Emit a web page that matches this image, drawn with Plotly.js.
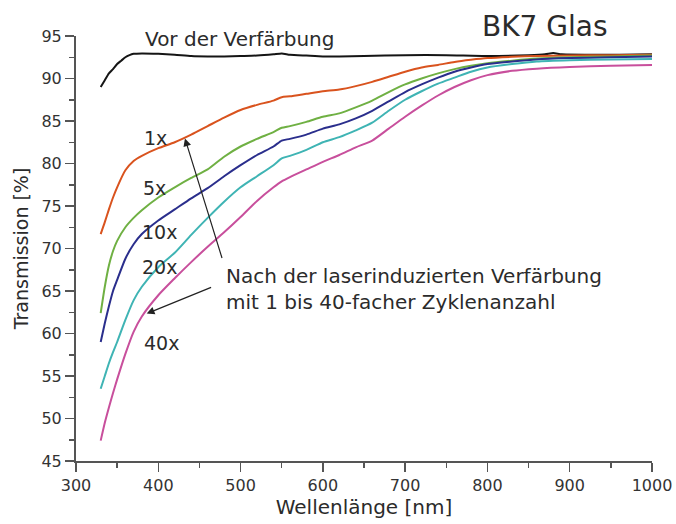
<!DOCTYPE html>
<html>
<head>
<meta charset="utf-8">
<script src="https://cdn.plot.ly/plotly-3.0.1.min.js"></script>
<style>html,body{margin:0;padding:0;background:#fff;}#chart{width:676px;height:524px;}</style>
</head>
<body>
<div id="chart"></div>
<script>
// Wavelength grid (nm) for the coloured series
const wavelength = [330,335,340,345,350,360,370,380,400,420,440,460,480,500,520,540,550,560,580,600,620,640,660,680,700,720,740,760,780,800,830,860,900,950,1000];
// Transmission (%) after 1x, 5x, 10x, 20x, 40x cycles
const t1x  = [71.7,73.1,74.6,76.0,77.2,79.2,80.3,80.9,81.8,82.5,83.4,84.4,85.4,86.3,86.9,87.4,87.8,87.9,88.2,88.5,88.7,89.1,89.6,90.2,90.8,91.3,91.6,91.95,92.2,92.4,92.55,92.65,92.7,92.75,92.8];
const t5x  = [62.4,65.5,68.0,69.7,70.9,72.5,73.6,74.5,76.0,77.2,78.3,79.3,80.8,82.0,82.9,83.7,84.2,84.4,84.9,85.5,85.9,86.6,87.4,88.4,89.3,90.0,90.6,91.1,91.5,91.8,92.1,92.35,92.5,92.6,92.7];
const t10x = [59.0,61.2,63.2,65.0,66.3,68.8,70.5,71.7,73.3,74.6,75.9,77.1,78.5,79.8,81.0,82.0,82.7,82.9,83.4,84.1,84.6,85.3,86.2,87.3,88.4,89.3,90.1,90.8,91.3,91.7,92.0,92.25,92.4,92.5,92.6];
const t20x = [53.5,55.0,56.5,57.8,59.0,61.6,63.9,65.5,67.8,69.5,71.6,73.6,75.5,77.2,78.5,79.8,80.6,80.9,81.6,82.5,83.1,83.9,84.8,86.2,87.5,88.5,89.4,90.1,90.8,91.3,91.7,92.0,92.15,92.25,92.3];
const t40x = [47.4,49.5,51.3,53.0,54.6,57.6,60.2,62.0,64.5,66.5,68.4,70.2,71.9,73.7,75.6,77.2,77.9,78.4,79.3,80.2,81.0,81.9,82.7,84.1,85.5,86.8,88.0,89.0,89.8,90.4,90.9,91.15,91.35,91.5,91.6];
// Before discoloration
const wavelengthVor = [330,335,340,345,350,355,360,365,370,380,400,420,440,460,480,500,520,540,550,560,580,600,620,650,700,750,800,850,870,880,890,920,960,1000];
const tVor = [89.0,89.8,90.6,91.1,91.7,92.1,92.5,92.75,92.9,92.95,92.9,92.8,92.65,92.6,92.6,92.65,92.7,92.85,92.95,92.8,92.7,92.6,92.6,92.65,92.75,92.75,92.65,92.75,92.85,93.0,92.85,92.8,92.8,92.85];

const seriesNames = ['1x','5x','10x','20x','40x'];
const seriesValues = [t1x,t5x,t10x,t20x,t40x];
const seriesColors = ['#d9531e','#6fb043','#2a2e8c','#3fb4b4','#c84f9c'];

const FONT = 'DejaVu Sans, Liberation Sans, Arial, sans-serif';
const TXT = '#2b2b2b';

const traces = [{
  x: wavelengthVor, y: tVor, type: 'scatter', mode: 'lines', name: 'Vor der Verfärbung',
  line: {color: '#151515', width: 2, shape:'spline', smoothing:0.5}
}];
seriesNames.forEach((n,i) => traces.push({
  x: wavelength, y: seriesValues[i], type: 'scatter', mode: 'lines', name: n,
  line: {color: seriesColors[i], width: 2, shape:'spline', smoothing:0.6}
}));

const labelAnn = (text, x, y) => ({text, x, y, xref:'x', yref:'y', showarrow:false,
  font:{family:FONT, size:19, color:TXT}, xanchor:'center', yanchor:'middle'});

const annotations = [
  {text:'BK7 Glas', xref:'paper', yref:'paper', x:(545-76)/576, y:(461-27)/425, showarrow:false,
   font:{family:FONT, size:28, color:TXT}, xanchor:'center', yanchor:'middle'},
  {text:'Vor der Verfärbung', x:(143-76)/576, y:(461-39.5)/425, xref:'paper', yref:'paper', showarrow:false,
   font:{family:FONT, size:20, color:TXT}, xanchor:'left', yanchor:'middle'},
  labelAnn('1x', 397, 82.95),
  labelAnn('5x', 395, 77.15),
  labelAnn('10x', 402, 71.95),
  labelAnn('20x', 402, 67.8),
  labelAnn('40x', 404, 58.9),
  {text:'Nach der laserinduzierten Verfärbung<br>mit 1 bis 40-facher Zyklenanzahl', x:(224-76)/576, y:(461-289)/425,
   xref:'paper', yref:'paper', showarrow:false, align:'left', xanchor:'left', yanchor:'middle',
   font:{family:FONT, size:20, color:TXT}},
  {text:'', x:432.4, y:82.95, xref:'x', yref:'y', ax:478, ay:68.7, axref:'x', ayref:'y',
   showarrow:true, arrowhead:2, arrowsize:1.3, arrowwidth:1.2, arrowcolor:'#222', standoff:0, startstandoff:0},
  {text:'', x:385.9, y:62.34, xref:'x', yref:'y', ax:466, ay:65.5, axref:'x', ayref:'y',
   showarrow:true, arrowhead:2, arrowsize:1.3, arrowwidth:1.2, arrowcolor:'#222', standoff:0, startstandoff:0}
];

const axisCommon = {
  showline:true, linecolor:'#555', linewidth:2, mirror:false,
  ticks:'outside', ticklen:9, tickwidth:1.5, tickcolor:'#555',
  showgrid:false, zeroline:false,
  tickfont:{family:FONT, size:16, color:'#333'}
};

const layout = {
  width:676, height:524,
  margin:{l:76, r:24, t:36, b:63},
  paper_bgcolor:'#fff', plot_bgcolor:'#fff',
  showlegend:false,
  xaxis: Object.assign({}, axisCommon, {
    range:[300,1000], dtick:100, tick0:300,
    minor:{ticks:'outside', ticklen:5, tickwidth:1.5, tickcolor:'#555', dtick:50, showgrid:false},
    title:{text:'Wellenlänge [nm]', font:{family:FONT, size:20, color:TXT}, standoff:6}
  }),
  yaxis: Object.assign({}, axisCommon, {
    range:[45,95], dtick:5, tick0:45,
    minor:{ticks:'outside', ticklen:5, tickwidth:1.5, tickcolor:'#555', dtick:2.5, showgrid:false},
    title:{text:'Transmission [%]', font:{family:FONT, size:19, color:TXT}, standoff:8}
  }),
  annotations
};

Plotly.newPlot('chart', traces, layout, {displayModeBar:false, staticPlot:true});
</script>
</body>
</html>
